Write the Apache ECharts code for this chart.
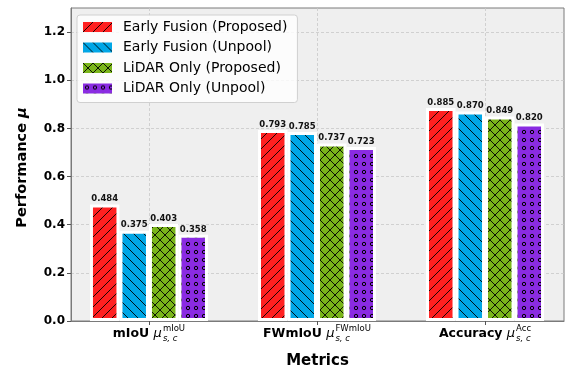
<!DOCTYPE html>
<html>
<head>
<meta charset="utf-8">
<script src="https://cdn.jsdelivr.net/npm/echarts@6/dist/echarts.min.js"></script>
<style>
  html, body { margin: 0; padding: 0; background: #ffffff; }
  #chart { width: 571px; height: 371px; }
</style>
</head>
<body>
<div id="chart"></div>
<script>
// Metric groups along the x axis and the superscript shown after each μ
const categories = ['mIoU', 'FWmIoU', 'Accuracy'];
const superscripts = ['mIoU', 'FWmIoU', 'Acc'];
const categoryPositions = [0, 1, 2];

// Scores per model variant
const seriesNames = ['Early Fusion (Proposed)', 'Early Fusion (Unpool)', 'LiDAR Only (Proposed)', 'LiDAR Only (Unpool)'];
const earlyFusionProposed = [0.484, 0.793, 0.885];
const earlyFusionUnpool = [0.375, 0.785, 0.870];
const lidarOnlyProposed = [0.403, 0.737, 0.849];
const lidarOnlyUnpool = [0.358, 0.723, 0.820];

// Y axis ticks
const yTicks = [0.0, 0.2, 0.4, 0.6, 0.8, 1.0, 1.2];

const FONT = 'DejaVu Sans';

// Hatched fills: colour tile with black hatch strokes
function hatch(bg, kind) {
  const s = kind === 'o' ? 8 : 10;
  const c = document.createElement('canvas');
  c.width = s; c.height = s;
  const g = c.getContext('2d');
  g.fillStyle = bg;
  g.fillRect(0, 0, s, s);
  g.strokeStyle = '#000000';
  g.lineWidth = 0.9;
  const line = (x1, y1, x2, y2) => { g.beginPath(); g.moveTo(x1, y1); g.lineTo(x2, y2); g.stroke(); };
  const slash = () => { line(-1, s + 1, s + 1, -1); line(-1, 1, 1, -1); line(s - 1, s + 1, s + 1, s - 1); };
  const back = () => { line(-1, -1, s + 1, s + 1); line(s - 1, -1, s + 1, 1); line(-1, s - 1, 1, s + 1); };
  if (kind === '/') slash();
  if (kind === '\\') back();
  if (kind === 'x') { slash(); back(); }
  if (kind === 'o') {
    g.lineWidth = 1;
    g.beginPath(); g.arc(s / 2, s / 2, 1.7, 0, Math.PI * 2); g.stroke();
  }
  return { image: c, repeat: 'repeat' };
}

const fills = [
  hatch('#ff2020', '/'),
  hatch('#00a6e6', '\\'),
  hatch('#7ab51a', 'x'),
  hatch('#8a2be2', 'o')
];
const values = [earlyFusionProposed, earlyFusionUnpool, lidarOnlyProposed, lidarOnlyUnpool];

const series = seriesNames.map((name, i) => ({
  name: name,
  type: 'bar',
  barWidth: 29.5,
  barGap: '0%',
  data: categoryPositions.map((x, j) => [x, values[i][j]]),
  itemStyle: { color: fills[i], borderColor: '#ffffff', borderWidth: 3 },
  label: {
    show: true,
    position: 'top',
    distance: 1,
    formatter: p => p.value[1].toFixed(3),
    fontFamily: FONT,
    fontWeight: 'bold',
    fontSize: 8.5,
    color: '#111111'
  }
}));

const chart = echarts.init(document.getElementById('chart'), null, { renderer: 'canvas' });
chart.setOption({
  animation: false,
  backgroundColor: '#ffffff',
  grid: {
    left: 71, right: 7, top: 8, bottom: 50,
    outerBoundsMode: 'none',
    containLabel: false,
    show: true,
    backgroundColor: '#efefef',
    borderColor: '#7a7a7a',
    borderWidth: 1
  },
  legend: {
    left: 77, top: 15,
    orient: 'vertical',
    itemWidth: 29, itemHeight: 10,
    itemGap: 6.5,
    padding: [5, 10, 7, 6],
    backgroundColor: 'rgba(255,255,255,0.8)',
    borderColor: '#d0d0d0',
    borderWidth: 1,
    borderRadius: 3,
    icon: 'rect',
    itemStyle: { borderWidth: 0 },
    textStyle: { fontFamily: FONT, fontSize: 14, color: '#000000', padding: [0, 0, 0, 6] },
    data: seriesNames
  },
  xAxis: {
    type: 'value',
    min: -0.464,
    max: 2.47,
    name: 'Metrics',
    nameLocation: 'middle',
    nameGap: 33,
    nameTextStyle: { fontFamily: FONT, fontWeight: 'bold', fontSize: 15, color: '#000000' },
    axisLine: { show: true, onZero: false, lineStyle: { color: '#7a7a7a', width: 1 } },
    axisTick: { show: true, customValues: categoryPositions, length: 4, lineStyle: { color: '#555555' } },
    splitLine: { show: true, lineStyle: { color: '#c8c8c8', type: [3, 2], width: 0.8 } },
    axisLabel: {
      customValues: categoryPositions,
      margin: 2,
      formatter: v => {
        const i = Math.round(v);
        return '{b|' + categories[i] + ' }{mu|μ}{sub|s, c}{sup|' + superscripts[i] + '}';
      },
      rich: {
        b: { align: 'left', fontFamily: FONT, fontWeight: 'bold', fontSize: 12.5, color: '#000', lineHeight: 22 },
        mu: { align: 'left', fontFamily: FONT, fontStyle: 'italic', fontSize: 13, color: '#000', lineHeight: 22, padding: [0, 1, 0, 0] },
        sub: { align: 'left', fontFamily: FONT, fontStyle: 'italic', fontSize: 8.5, color: '#000', width: 0, verticalAlign: 'bottom', padding: [0, 0, 2, 0] },
        sup: { align: 'left', fontFamily: FONT, fontSize: 8.5, color: '#000', verticalAlign: 'top', padding: [1, 0, 0, 0] }
      }
    }
  },
  yAxis: {
    type: 'value',
    min: 0,
    max: 1.3,
    name: 'Performance {mu|μ}',
    nameLocation: 'middle',
    nameGap: 41,
    nameTextStyle: {
      fontFamily: FONT, fontWeight: 'bold', fontSize: 14.5, color: '#000000',
      padding: [0, 6, 0, 0],
      rich: { mu: { fontFamily: FONT, fontStyle: 'italic', fontSize: 14.5, color: '#000' } }
    },
    axisLine: { show: true, onZero: false, lineStyle: { color: '#7a7a7a', width: 1 } },
    axisTick: { show: true, customValues: yTicks, length: 4, lineStyle: { color: '#555555' } },
    splitLine: { show: true, lineStyle: { color: '#c8c8c8', type: [3, 2], width: 0.8 } },
    axisLabel: {
      customValues: yTicks,
      margin: 6,
      formatter: v => v.toFixed(1),
      fontFamily: FONT, fontWeight: 'bold', fontSize: 12, color: '#000000'
    }
  },
  series: series
});
</script>
</body>
</html>
